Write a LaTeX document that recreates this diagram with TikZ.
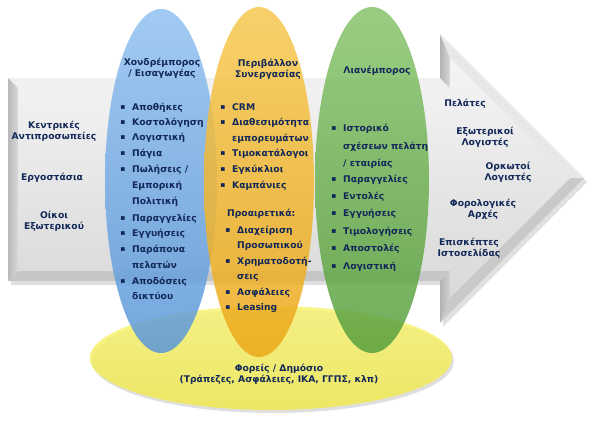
\documentclass[tikz,border=0pt]{standalone}
\usepackage{fontspec}
\setmainfont{DejaVu Sans}
\usetikzlibrary{shapes.geometric,shadows}
\definecolor{txt}{RGB}{18,40,88}
\definecolor{bluetop}{RGB}{145,193,240}
\definecolor{bluebot}{RGB}{92,152,216}
\definecolor{oratop}{RGB}{246,200,80}
\definecolor{orabot}{RGB}{236,168,25}
\definecolor{grntop}{RGB}{135,196,108}
\definecolor{grnbot}{RGB}{88,160,62}
\definecolor{yeltop}{RGB}{248,244,118}
\definecolor{yelbot}{RGB}{240,232,80}
\tikzset{
  lbl/.style={font=\bfseries\fontsize{9.2}{11.2}\selectfont, text=txt, inner sep=0pt, align=center},
  item/.style={font=\bfseries\fontsize{9.2}{11.2}\selectfont, text=txt, inner sep=0pt, anchor=west, text height=6.8pt, text depth=2pt},
  bul/.style={font=\fontsize{7.5}{8}\selectfont, text=txt, inner sep=0pt},
  ell/.style={ellipse, inner sep=0pt, fill opacity=0.85, draw=none},
}
\begin{document}
\begin{tikzpicture}[x=1pt,y=-1pt]
\useasboundingbox (0,0) rectangle (591,423);
% ---- arrow ----
\coordinate (A) at (8,78);   \coordinate (B) at (440,78);
\coordinate (C) at (440,34); \coordinate (D) at (584,178);
\coordinate (E) at (440,323);\coordinate (F) at (440,281);
\coordinate (G) at (8,281);
\coordinate (a) at (18,88);  \coordinate (b) at (450,88);
\coordinate (c) at (450,58); \coordinate (d) at (570,178);
\coordinate (e) at (450,298);\coordinate (f) at (450,271);
\coordinate (g) at (18,271);
\fill[black, opacity=0.12] ([shift={(3,4)}]A) -- ([shift={(3,4)}]B) -- ([shift={(3,4)}]C) -- ([shift={(3,4)}]D) -- ([shift={(3,4)}]E) -- ([shift={(3,4)}]F) -- ([shift={(3,4)}]G) -- cycle;
\fill[gray!12] (A) -- (B) -- (b) -- (a) -- cycle;
\shade[left color=gray!55, right color=gray!30] (A) -- (a) -- (g) -- (G) -- cycle;
\fill[gray!45] (G) -- (g) -- (f) -- (F) -- cycle;
\shade[left color=gray!60, right color=gray!30] (B) -- (C) -- (c) -- (b) -- cycle;
\fill[gray!18] (C) -- (D) -- (d) -- (c) -- cycle;
\fill[gray!42] (D) -- (E) -- (e) -- (d) -- cycle;
\shade[left color=gray!60, right color=gray!35] (F) -- (E) -- (e) -- (f) -- cycle;
\shade[top color=gray!8, bottom color=gray!30] (a) -- (b) -- (c) -- (d) -- (e) -- (f) -- (g) -- cycle;
% ---- ellipses ----
\node[ell, minimum width=362, minimum height=104, top color=yeltop, bottom color=yelbot,
      drop shadow={opacity=0.25, shadow xshift=2pt, shadow yshift=-3pt}] (yel) at (271,358) {};
\node[ell, minimum width=112, minimum height=344, top color=bluetop, bottom color=bluebot] (blue) at (161,181) {};
\node[ell, minimum width=110, minimum height=350, top color=oratop, bottom color=orabot] (ora) at (259,182) {};
\node[ell, minimum width=114, minimum height=346, top color=grntop, bottom color=grnbot] (grn) at (372,180) {};
% ---- left column ----
\node[lbl] (l1) at (54,131) {Κεντρικές\\Αντιπροσωπείες};
\node[lbl] (l2) at (52,178) {Εργοστάσια};
\node[lbl] (l3) at (54,221) {Οίκοι\\Εξωτερικού};
% ---- blue ----
\node[lbl] (bt) at (162,68) {Χονδρέμπορος\\/ Εισαγωγέας};
\foreach \n/\y in {1/108,2/123,3/138,4/154,5/170,8/219,9/234,10/250,12/282}
  \node[bul] (bb\n) at (123,\y) {▪};
\node[item] (b1) at (132,108) {Αποθήκες};
\node[item] (b2) at (132,123) {Κοστολόγηση};
\node[item] (b3) at (132,138) {Λογιστική};
\node[item] (b4) at (132,154) {Πάγια};
\node[item] (b5) at (132,170) {Πωλήσεις /};
\node[item] (b6) at (132,186) {Εμπορική};
\node[item] (b7) at (132,202) {Πολιτική};
\node[item] (b8) at (132,219) {Παραγγελίες};
\node[item] (b9) at (132,234) {Εγγυήσεις};
\node[item] (b10) at (132,250) {Παράπονα};
\node[item] (b11) at (132,266) {πελατών};
\node[item] (b12) at (132,282) {Αποδόσεις};
\node[item] (b13) at (132,297) {δικτύου};
% ---- orange ----
\node[lbl] (ot) at (268,69) {Περιβάλλον\\Συνεργασίας};
\foreach \n/\y in {1/108,2/123,4/154,5/170,6/186}
  \node[bul] (ob\n) at (223,\y) {▪};
\foreach \n/\y in {8/231,10/262,12/293,13/308}
  \node[bul] (ob\n) at (228,\y) {▪};
\node[item] (o1) at (232,108) {CRM};
\node[item] (o2) at (232,123) {Διαθεσιμότητα};
\node[item] (o3) at (232,139) {εμπορευμάτων};
\node[item] (o4) at (232,154) {Τιμοκατάλογοι};
\node[item] (o5) at (232,170) {Εγκύκλιοι};
\node[item] (o6) at (232,186) {Καμπάνιες};
\node[item] (o7) at (227,214) {Προαιρετικά:};
\node[item] (o8) at (237,231) {Διαχείριση};
\node[item] (o9) at (237,246) {Προσωπικού};
\node[item] (o10) at (237,262) {Χρηματοδοτή-};
\node[item] (o11) at (237,277) {σεις};
\node[item] (o12) at (237,293) {Ασφάλειες};
\node[item] (o13) at (237,308) {Leasing};
% ---- green ----
\node[lbl] (gt) at (377,71) {Λιανέμπορος};
\foreach \n/\y in {1/129,4/180,5/197,6/214,7/232,8/249,9/267}
  \node[bul] (gb\n) at (334,\y) {▪};
\node[item] (g1) at (343,129) {Ιστορικό};
\node[item] (g2) at (343,147) {σχέσεων πελάτη};
\node[item] (g3) at (343,164) {/ εταιρίας};
\node[item] (g4) at (343,180) {Παραγγελίες};
\node[item] (g5) at (343,197) {Εντολές};
\node[item] (g6) at (343,214) {Εγγυήσεις};
\node[item] (g7) at (343,232) {Τιμολογήσεις};
\node[item] (g8) at (343,249) {Αποστολές};
\node[item] (g9) at (343,267) {Λογιστική};
% ---- right column ----
\node[lbl] (r1) at (465,104) {Πελάτες};
\node[lbl] (r2) at (485,137) {Εξωτερικοί\\Λογιστές};
\node[lbl] (r3) at (508,172) {Ορκωτοί\\Λογιστές};
\node[lbl] (r4) at (483,209) {Φορολογικές\\Αρχές};
\node[lbl] (r5) at (469,248) {Επισκέπτες\\Ιστοσελίδας};
% ---- bottom ----
\node[lbl] (y1) at (279,374) {Φορείς / Δημόσιο\\(Τράπεζες, Ασφάλειες, ΙΚΑ, ΓΓΠΣ, κλπ)};
\end{tikzpicture}
\end{document}
